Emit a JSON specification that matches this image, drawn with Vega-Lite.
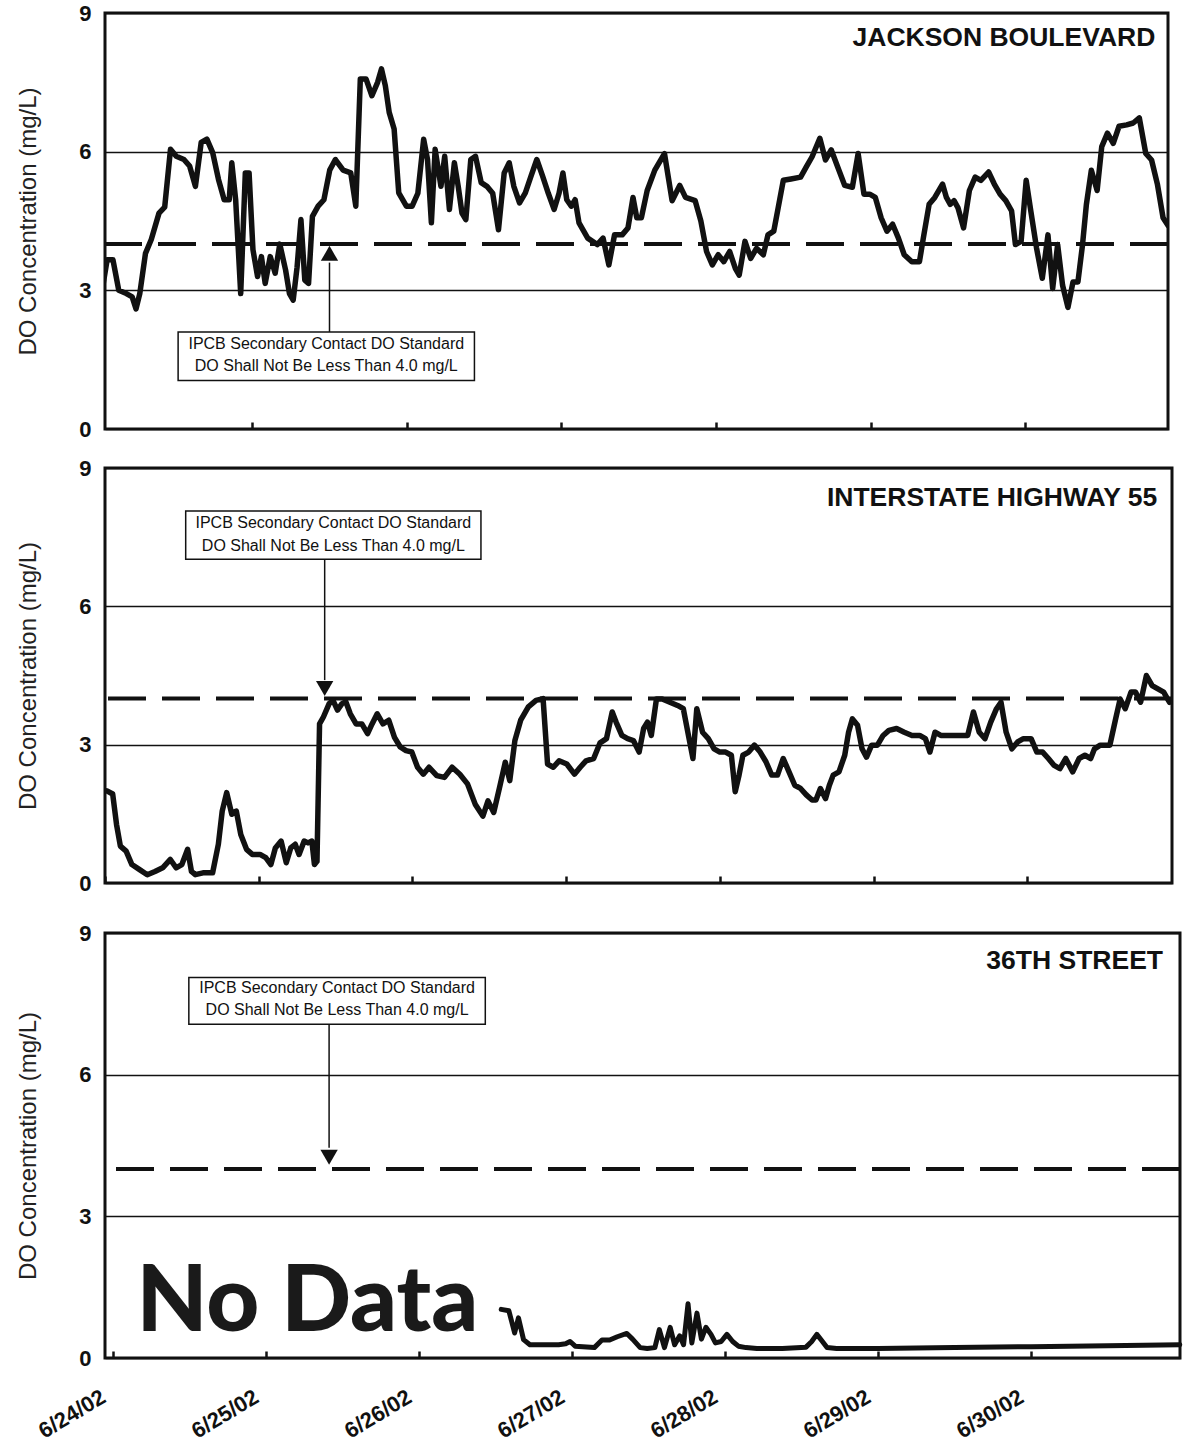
{
  "$schema": "https://vega.github.io/schema/vega-lite/v6.json",
  "background": "white",
  "padding": {"left": 15, "top": 0, "right": 0, "bottom": 0},
  "datasets": {
    "standard": [{"do": 4}],
    "readings": [
      {"site":"J","time":"2002-06-24T00:00","do":5.04},{"site":"J","time":"2002-06-24T00:53","do":3.15},{"site":"J","time":"2002-06-24T01:29","do":3.66},{"site":"J","time":"2002-06-24T02:23","do":3.66},{"site":"J","time":"2002-06-24T03:17","do":3.0},{"site":"J","time":"2002-06-24T04:28","do":2.93},{"site":"J","time":"2002-06-24T05:22","do":2.86},{"site":"J","time":"2002-06-24T05:58","do":2.6},{"site":"J","time":"2002-06-24T06:33","do":2.93},{"site":"J","time":"2002-06-24T07:26","do":3.8},{"site":"J","time":"2002-06-24T08:20","do":4.1},{"site":"J","time":"2002-06-24T09:32","do":4.67},{"site":"J","time":"2002-06-24T10:25","do":4.8},{"site":"J","time":"2002-06-24T11:19","do":6.05},{"site":"J","time":"2002-06-24T12:13","do":5.9},{"site":"J","time":"2002-06-24T13:24","do":5.83},{"site":"J","time":"2002-06-24T14:17","do":5.69},{"site":"J","time":"2002-06-24T15:11","do":5.25},{"site":"J","time":"2002-06-24T16:05","do":6.2},{"site":"J","time":"2002-06-24T16:58","do":6.27},{"site":"J","time":"2002-06-24T17:52","do":5.98},{"site":"J","time":"2002-06-24T18:46","do":5.4},{"site":"J","time":"2002-06-24T19:39","do":4.96},{"site":"J","time":"2002-06-24T20:26","do":4.96},{"site":"J","time":"2002-06-24T20:50","do":5.76},{"site":"J","time":"2002-06-24T21:26","do":4.96},{"site":"J","time":"2002-06-24T22:13","do":2.93},{"site":"J","time":"2002-06-24T22:56","do":5.54},{"site":"J","time":"2002-06-24T23:31","do":5.54},
      {"site":"J","time":"2002-06-25T00:07","do":3.88},{"site":"J","time":"2002-06-25T00:50","do":3.3},{"site":"J","time":"2002-06-25T01:26","do":3.73},{"site":"J","time":"2002-06-25T02:01","do":3.15},{"site":"J","time":"2002-06-25T02:48","do":3.73},{"site":"J","time":"2002-06-25T03:34","do":3.37},{"site":"J","time":"2002-06-25T04:17","do":4.0},{"site":"J","time":"2002-06-25T05:11","do":3.44},{"site":"J","time":"2002-06-25T05:47","do":2.93},{"site":"J","time":"2002-06-25T06:22","do":2.79},{"site":"J","time":"2002-06-25T06:58","do":3.5},{"site":"J","time":"2002-06-25T07:34","do":4.53},{"site":"J","time":"2002-06-25T08:10","do":3.22},{"site":"J","time":"2002-06-25T08:45","do":3.15},{"site":"J","time":"2002-06-25T09:21","do":4.6},{"site":"J","time":"2002-06-25T10:14","do":4.82},{"site":"J","time":"2002-06-25T11:08","do":4.96},{"site":"J","time":"2002-06-25T12:02","do":5.6},{"site":"J","time":"2002-06-25T12:55","do":5.83},{"site":"J","time":"2002-06-25T14:07","do":5.6},{"site":"J","time":"2002-06-25T15:18","do":5.54},{"site":"J","time":"2002-06-25T16:05","do":4.82},{"site":"J","time":"2002-06-25T16:47","do":7.57},{"site":"J","time":"2002-06-25T17:41","do":7.57},{"site":"J","time":"2002-06-25T18:35","do":7.21},{"site":"J","time":"2002-06-25T19:28","do":7.5},{"site":"J","time":"2002-06-25T20:04","do":7.79},{"site":"J","time":"2002-06-25T20:40","do":7.43},{"site":"J","time":"2002-06-25T21:16","do":6.85},{"site":"J","time":"2002-06-25T22:02","do":6.49},{"site":"J","time":"2002-06-25T22:45","do":5.11},{"site":"J","time":"2002-06-25T23:56","do":4.82},
      {"site":"J","time":"2002-06-26T00:50","do":4.82},{"site":"J","time":"2002-06-26T01:43","do":5.1},{"site":"J","time":"2002-06-26T02:37","do":6.27},{"site":"J","time":"2002-06-26T03:13","do":5.83},{"site":"J","time":"2002-06-26T03:49","do":4.46},{"site":"J","time":"2002-06-26T04:24","do":6.05},{"site":"J","time":"2002-06-26T05:18","do":5.25},{"site":"J","time":"2002-06-26T05:53","do":5.9},{"site":"J","time":"2002-06-26T06:37","do":4.75},{"site":"J","time":"2002-06-26T07:23","do":5.76},{"site":"J","time":"2002-06-26T07:59","do":5.25},{"site":"J","time":"2002-06-26T08:34","do":4.67},{"site":"J","time":"2002-06-26T09:10","do":4.53},{"site":"J","time":"2002-06-26T09:56","do":5.83},{"site":"J","time":"2002-06-26T10:40","do":5.9},{"site":"J","time":"2002-06-26T11:33","do":5.33},{"site":"J","time":"2002-06-26T12:26","do":5.25},{"site":"J","time":"2002-06-26T13:20","do":5.1},{"site":"J","time":"2002-06-26T14:14","do":4.31},{"site":"J","time":"2002-06-26T15:07","do":5.54},{"site":"J","time":"2002-06-26T15:54","do":5.76},{"site":"J","time":"2002-06-26T16:37","do":5.25},{"site":"J","time":"2002-06-26T17:30","do":4.89},{"site":"J","time":"2002-06-26T18:24","do":5.11},{"site":"J","time":"2002-06-26T19:17","do":5.47},{"site":"J","time":"2002-06-26T20:11","do":5.83},{"site":"J","time":"2002-06-26T21:05","do":5.47},{"site":"J","time":"2002-06-26T21:58","do":5.1},{"site":"J","time":"2002-06-26T22:52","do":4.75},{"site":"J","time":"2002-06-26T23:38","do":5.1},
      {"site":"J","time":"2002-06-27T00:14","do":5.54},{"site":"J","time":"2002-06-27T00:50","do":4.96},{"site":"J","time":"2002-06-27T01:32","do":4.82},{"site":"J","time":"2002-06-27T02:08","do":4.96},{"site":"J","time":"2002-06-27T02:44","do":4.46},{"site":"J","time":"2002-06-27T04:05","do":4.13},{"site":"J","time":"2002-06-27T05:34","do":3.99},{"site":"J","time":"2002-06-27T06:28","do":4.13},{"site":"J","time":"2002-06-27T07:22","do":3.55},{"site":"J","time":"2002-06-27T08:15","do":4.2},{"site":"J","time":"2002-06-27T09:26","do":4.2},{"site":"J","time":"2002-06-27T10:20","do":4.35},{"site":"J","time":"2002-06-27T11:07","do":5.01},{"site":"J","time":"2002-06-27T11:42","do":4.57},{"site":"J","time":"2002-06-27T12:25","do":4.57},{"site":"J","time":"2002-06-27T13:19","do":5.16},{"site":"J","time":"2002-06-27T14:30","do":5.6},{"site":"J","time":"2002-06-27T16:00","do":5.96},{"site":"J","time":"2002-06-27T17:11","do":4.94},{"site":"J","time":"2002-06-27T18:22","do":5.27},{"site":"J","time":"2002-06-27T19:16","do":5.01},{"site":"J","time":"2002-06-27T20:46","do":4.94},{"site":"J","time":"2002-06-27T21:39","do":4.5},{"site":"J","time":"2002-06-27T22:32","do":3.84},{"site":"J","time":"2002-06-27T23:26","do":3.55},
      {"site":"J","time":"2002-06-28T00:20","do":3.77},{"site":"J","time":"2002-06-28T01:13","do":3.62},{"site":"J","time":"2002-06-28T02:07","do":3.84},{"site":"J","time":"2002-06-28T03:01","do":3.47},{"site":"J","time":"2002-06-28T03:36","do":3.33},{"site":"J","time":"2002-06-28T04:30","do":4.06},{"site":"J","time":"2002-06-28T05:23","do":3.69},{"site":"J","time":"2002-06-28T06:17","do":3.91},{"site":"J","time":"2002-06-28T07:21","do":3.77},{"site":"J","time":"2002-06-28T08:04","do":4.2},{"site":"J","time":"2002-06-28T08:58","do":4.28},{"site":"J","time":"2002-06-28T09:34","do":4.72},{"site":"J","time":"2002-06-28T10:27","do":5.38},{"site":"J","time":"2002-06-28T11:38","do":5.41},{"site":"J","time":"2002-06-28T13:08","do":5.45},{"site":"J","time":"2002-06-28T14:01","do":5.67},{"site":"J","time":"2002-06-28T14:55","do":5.89},{"site":"J","time":"2002-06-28T16:07","do":6.29},{"site":"J","time":"2002-06-28T17:00","do":5.82},{"site":"J","time":"2002-06-28T17:53","do":6.04},{"site":"J","time":"2002-06-28T19:05","do":5.6},{"site":"J","time":"2002-06-28T19:59","do":5.27},{"site":"J","time":"2002-06-28T21:10","do":5.23},{"site":"J","time":"2002-06-28T22:04","do":5.96},{"site":"J","time":"2002-06-28T22:58","do":5.08},{"site":"J","time":"2002-06-28T23:51","do":5.08},
      {"site":"J","time":"2002-06-29T00:44","do":5.01},{"site":"J","time":"2002-06-29T01:38","do":4.57},{"site":"J","time":"2002-06-29T02:32","do":4.28},{"site":"J","time":"2002-06-29T03:25","do":4.43},{"site":"J","time":"2002-06-29T04:19","do":4.13},{"site":"J","time":"2002-06-29T05:13","do":3.77},{"site":"J","time":"2002-06-29T06:24","do":3.62},{"site":"J","time":"2002-06-29T07:35","do":3.62},{"site":"J","time":"2002-06-29T08:11","do":4.13},{"site":"J","time":"2002-06-29T09:05","do":4.86},{"site":"J","time":"2002-06-29T09:58","do":5.01},{"site":"J","time":"2002-06-29T11:10","do":5.3},{"site":"J","time":"2002-06-29T11:46","do":5.01},{"site":"J","time":"2002-06-29T12:22","do":4.86},{"site":"J","time":"2002-06-29T12:57","do":4.94},{"site":"J","time":"2002-06-29T13:33","do":4.79},{"site":"J","time":"2002-06-29T14:26","do":4.35},{"site":"J","time":"2002-06-29T15:20","do":5.16},{"site":"J","time":"2002-06-29T16:14","do":5.45},{"site":"J","time":"2002-06-29T17:07","do":5.38},{"site":"J","time":"2002-06-29T18:19","do":5.56},{"site":"J","time":"2002-06-29T19:12","do":5.3},{"site":"J","time":"2002-06-29T20:06","do":5.08},{"site":"J","time":"2002-06-29T20:59","do":4.94},{"site":"J","time":"2002-06-29T21:53","do":4.72},{"site":"J","time":"2002-06-29T22:29","do":3.99},{"site":"J","time":"2002-06-29T23:22","do":4.06},
      {"site":"J","time":"2002-06-30T00:09","do":5.38},{"site":"J","time":"2002-06-30T00:52","do":4.72},{"site":"J","time":"2002-06-30T01:46","do":3.91},{"site":"J","time":"2002-06-30T02:39","do":3.26},{"site":"J","time":"2002-06-30T03:32","do":4.2},{"site":"J","time":"2002-06-30T04:16","do":3.04},{"site":"J","time":"2002-06-30T05:02","do":3.99},{"site":"J","time":"2002-06-30T05:48","do":3.11},{"site":"J","time":"2002-06-30T06:38","do":2.63},{"site":"J","time":"2002-06-30T07:25","do":3.18},{"site":"J","time":"2002-06-30T08:11","do":3.18},{"site":"J","time":"2002-06-30T08:54","do":3.99},{"site":"J","time":"2002-06-30T09:30","do":4.86},{"site":"J","time":"2002-06-30T10:16","do":5.6},{"site":"J","time":"2002-06-30T11:10","do":5.16},{"site":"J","time":"2002-06-30T11:53","do":6.11},{"site":"J","time":"2002-06-30T12:46","do":6.4},{"site":"J","time":"2002-06-30T13:40","do":6.18},{"site":"J","time":"2002-06-30T14:34","do":6.55},{"site":"J","time":"2002-06-30T15:45","do":6.58},{"site":"J","time":"2002-06-30T16:46","do":6.62},{"site":"J","time":"2002-06-30T17:43","do":6.73},{"site":"J","time":"2002-06-30T18:43","do":5.96},{"site":"J","time":"2002-06-30T19:37","do":5.82},{"site":"J","time":"2002-06-30T20:31","do":5.3},{"site":"J","time":"2002-06-30T21:24","do":4.57},{"site":"J","time":"2002-06-30T22:12","do":4.4},

      {"site":"I","time":"2002-06-24T00:18","do":2.0},{"site":"I","time":"2002-06-24T01:12","do":1.93},{"site":"I","time":"2002-06-24T01:48","do":1.27},{"site":"I","time":"2002-06-24T02:24","do":0.8},{"site":"I","time":"2002-06-24T03:18","do":0.69},{"site":"I","time":"2002-06-24T04:12","do":0.4},{"site":"I","time":"2002-06-24T05:24","do":0.29},{"site":"I","time":"2002-06-24T06:36","do":0.18},{"site":"I","time":"2002-06-24T07:48","do":0.25},{"site":"I","time":"2002-06-24T09:00","do":0.33},{"site":"I","time":"2002-06-24T10:12","do":0.51},{"site":"I","time":"2002-06-24T11:06","do":0.33},{"site":"I","time":"2002-06-24T12:00","do":0.4},{"site":"I","time":"2002-06-24T12:54","do":0.73},{"site":"I","time":"2002-06-24T13:30","do":0.25},{"site":"I","time":"2002-06-24T14:06","do":0.18},{"site":"I","time":"2002-06-24T15:18","do":0.22},{"site":"I","time":"2002-06-24T16:48","do":0.22},{"site":"I","time":"2002-06-24T17:42","do":0.84},{"site":"I","time":"2002-06-24T18:18","do":1.56},{"site":"I","time":"2002-06-24T19:00","do":1.96},{"site":"I","time":"2002-06-24T19:48","do":1.49},{"site":"I","time":"2002-06-24T20:30","do":1.56},{"site":"I","time":"2002-06-24T21:12","do":1.05},{"site":"I","time":"2002-06-24T22:06","do":0.73},{"site":"I","time":"2002-06-24T23:00","do":0.62},
      {"site":"I","time":"2002-06-25T00:12","do":0.62},{"site":"I","time":"2002-06-25T01:06","do":0.55},{"site":"I","time":"2002-06-25T01:54","do":0.4},{"site":"I","time":"2002-06-25T02:36","do":0.76},{"site":"I","time":"2002-06-25T03:30","do":0.91},{"site":"I","time":"2002-06-25T04:18","do":0.44},{"site":"I","time":"2002-06-25T05:00","do":0.76},{"site":"I","time":"2002-06-25T05:42","do":0.84},{"site":"I","time":"2002-06-25T06:18","do":0.62},{"site":"I","time":"2002-06-25T07:06","do":0.91},{"site":"I","time":"2002-06-25T07:42","do":0.87},{"site":"I","time":"2002-06-25T08:18","do":0.91},{"site":"I","time":"2002-06-25T08:42","do":0.4},{"site":"I","time":"2002-06-25T09:06","do":0.47},{"site":"I","time":"2002-06-25T09:30","do":3.45},{"site":"I","time":"2002-06-25T10:06","do":3.6},{"site":"I","time":"2002-06-25T11:00","do":3.89},{"site":"I","time":"2002-06-25T11:36","do":3.96},{"site":"I","time":"2002-06-25T12:18","do":3.75},{"site":"I","time":"2002-06-25T13:00","do":3.89},{"site":"I","time":"2002-06-25T13:36","do":3.93},{"site":"I","time":"2002-06-25T14:18","do":3.67},{"site":"I","time":"2002-06-25T15:12","do":3.45},{"site":"I","time":"2002-06-25T16:06","do":3.45},{"site":"I","time":"2002-06-25T17:00","do":3.24},{"site":"I","time":"2002-06-25T17:42","do":3.45},{"site":"I","time":"2002-06-25T18:30","do":3.67},{"site":"I","time":"2002-06-25T19:24","do":3.45},{"site":"I","time":"2002-06-25T20:18","do":3.53},{"site":"I","time":"2002-06-25T21:12","do":3.16},{"site":"I","time":"2002-06-25T22:06","do":2.95},{"site":"I","time":"2002-06-25T23:00","do":2.87},{"site":"I","time":"2002-06-25T23:54","do":2.84},
      {"site":"I","time":"2002-06-26T00:48","do":2.51},{"site":"I","time":"2002-06-26T01:42","do":2.36},{"site":"I","time":"2002-06-26T02:36","do":2.51},{"site":"I","time":"2002-06-26T03:48","do":2.33},{"site":"I","time":"2002-06-26T05:00","do":2.29},{"site":"I","time":"2002-06-26T06:12","do":2.51},{"site":"I","time":"2002-06-26T07:24","do":2.36},{"site":"I","time":"2002-06-26T08:36","do":2.15},{"site":"I","time":"2002-06-26T09:48","do":1.71},{"site":"I","time":"2002-06-26T11:00","do":1.45},{"site":"I","time":"2002-06-26T11:48","do":1.78},{"site":"I","time":"2002-06-26T12:42","do":1.53},{"site":"I","time":"2002-06-26T13:36","do":2.07},{"site":"I","time":"2002-06-26T14:30","do":2.62},{"site":"I","time":"2002-06-26T15:12","do":2.22},{"site":"I","time":"2002-06-26T16:00","do":3.09},{"site":"I","time":"2002-06-26T16:54","do":3.53},{"site":"I","time":"2002-06-26T18:06","do":3.82},{"site":"I","time":"2002-06-26T19:18","do":3.96},{"site":"I","time":"2002-06-26T20:24","do":4.0},{"site":"I","time":"2002-06-26T21:06","do":2.58},{"site":"I","time":"2002-06-26T22:00","do":2.51},{"site":"I","time":"2002-06-26T22:54","do":2.65},
      {"site":"I","time":"2002-06-27T00:06","do":2.58},{"site":"I","time":"2002-06-27T01:18","do":2.36},{"site":"I","time":"2002-06-27T02:12","do":2.51},{"site":"I","time":"2002-06-27T03:06","do":2.65},{"site":"I","time":"2002-06-27T04:18","do":2.7},{"site":"I","time":"2002-06-27T05:18","do":3.04},{"site":"I","time":"2002-06-27T06:18","do":3.13},{"site":"I","time":"2002-06-27T07:12","do":3.71},{"site":"I","time":"2002-06-27T07:48","do":3.49},{"site":"I","time":"2002-06-27T08:42","do":3.2},{"site":"I","time":"2002-06-27T09:36","do":3.13},{"site":"I","time":"2002-06-27T10:30","do":3.09},{"site":"I","time":"2002-06-27T11:24","do":2.84},{"site":"I","time":"2002-06-27T12:06","do":3.35},{"site":"I","time":"2002-06-27T12:42","do":3.49},{"site":"I","time":"2002-06-27T13:18","do":3.2},{"site":"I","time":"2002-06-27T14:06","do":3.99},{"site":"I","time":"2002-06-27T15:00","do":3.99},{"site":"I","time":"2002-06-27T16:12","do":3.92},{"site":"I","time":"2002-06-27T17:24","do":3.85},{"site":"I","time":"2002-06-27T18:18","do":3.78},{"site":"I","time":"2002-06-27T19:12","do":3.13},{"site":"I","time":"2002-06-27T19:48","do":2.7},{"site":"I","time":"2002-06-27T20:24","do":3.78},{"site":"I","time":"2002-06-27T21:18","do":3.27},{"site":"I","time":"2002-06-27T22:12","do":3.13},{"site":"I","time":"2002-06-27T23:06","do":2.91},
      {"site":"I","time":"2002-06-28T00:00","do":2.84},{"site":"I","time":"2002-06-28T00:54","do":2.84},{"site":"I","time":"2002-06-28T01:48","do":2.77},{"site":"I","time":"2002-06-28T02:24","do":1.98},{"site":"I","time":"2002-06-28T03:00","do":2.34},{"site":"I","time":"2002-06-28T03:36","do":2.77},{"site":"I","time":"2002-06-28T04:30","do":2.84},{"site":"I","time":"2002-06-28T05:24","do":2.99},{"site":"I","time":"2002-06-28T06:18","do":2.84},{"site":"I","time":"2002-06-28T07:12","do":2.63},{"site":"I","time":"2002-06-28T08:06","do":2.34},{"site":"I","time":"2002-06-28T09:00","do":2.34},{"site":"I","time":"2002-06-28T09:54","do":2.7},{"site":"I","time":"2002-06-28T10:48","do":2.41},{"site":"I","time":"2002-06-28T11:42","do":2.12},{"site":"I","time":"2002-06-28T12:36","do":2.05},{"site":"I","time":"2002-06-28T13:30","do":1.91},{"site":"I","time":"2002-06-28T14:24","do":1.8},{"site":"I","time":"2002-06-28T15:00","do":1.8},{"site":"I","time":"2002-06-28T15:42","do":2.05},{"site":"I","time":"2002-06-28T16:30","do":1.83},{"site":"I","time":"2002-06-28T17:06","do":2.12},{"site":"I","time":"2002-06-28T17:42","do":2.34},{"site":"I","time":"2002-06-28T18:36","do":2.41},{"site":"I","time":"2002-06-28T19:30","do":2.77},{"site":"I","time":"2002-06-28T20:06","do":3.27},{"site":"I","time":"2002-06-28T20:42","do":3.56},{"site":"I","time":"2002-06-28T21:30","do":3.42},{"site":"I","time":"2002-06-28T22:12","do":2.91},{"site":"I","time":"2002-06-28T22:54","do":2.73},{"site":"I","time":"2002-06-28T23:42","do":2.99},
      {"site":"I","time":"2002-06-29T00:36","do":2.99},{"site":"I","time":"2002-06-29T01:30","do":3.2},{"site":"I","time":"2002-06-29T02:24","do":3.31},{"site":"I","time":"2002-06-29T03:36","do":3.35},{"site":"I","time":"2002-06-29T04:48","do":3.27},{"site":"I","time":"2002-06-29T06:00","do":3.2},{"site":"I","time":"2002-06-29T07:12","do":3.2},{"site":"I","time":"2002-06-29T08:06","do":3.13},{"site":"I","time":"2002-06-29T08:48","do":2.84},{"site":"I","time":"2002-06-29T09:36","do":3.27},{"site":"I","time":"2002-06-29T10:30","do":3.2},{"site":"I","time":"2002-06-29T11:24","do":3.2},{"site":"I","time":"2002-06-29T12:36","do":3.2},{"site":"I","time":"2002-06-29T13:48","do":3.2},{"site":"I","time":"2002-06-29T14:42","do":3.2},{"site":"I","time":"2002-06-29T15:36","do":3.71},{"site":"I","time":"2002-06-29T16:30","do":3.27},{"site":"I","time":"2002-06-29T17:24","do":3.13},{"site":"I","time":"2002-06-29T18:18","do":3.49},{"site":"I","time":"2002-06-29T19:12","do":3.78},{"site":"I","time":"2002-06-29T19:54","do":3.92},{"site":"I","time":"2002-06-29T20:42","do":3.27},{"site":"I","time":"2002-06-29T21:36","do":2.91},{"site":"I","time":"2002-06-29T22:30","do":3.06},{"site":"I","time":"2002-06-29T23:24","do":3.13},
      {"site":"I","time":"2002-06-30T00:36","do":3.13},{"site":"I","time":"2002-06-30T01:30","do":2.84},{"site":"I","time":"2002-06-30T02:24","do":2.84},{"site":"I","time":"2002-06-30T03:18","do":2.7},{"site":"I","time":"2002-06-30T04:12","do":2.55},{"site":"I","time":"2002-06-30T05:06","do":2.48},{"site":"I","time":"2002-06-30T06:00","do":2.7},{"site":"I","time":"2002-06-30T07:06","do":2.41},{"site":"I","time":"2002-06-30T08:06","do":2.7},{"site":"I","time":"2002-06-30T09:00","do":2.77},{"site":"I","time":"2002-06-30T09:54","do":2.7},{"site":"I","time":"2002-06-30T10:30","do":2.91},{"site":"I","time":"2002-06-30T11:24","do":2.99},{"site":"I","time":"2002-06-30T12:54","do":2.99},{"site":"I","time":"2002-06-30T13:48","do":3.56},{"site":"I","time":"2002-06-30T14:30","do":3.99},{"site":"I","time":"2002-06-30T15:18","do":3.78},{"site":"I","time":"2002-06-30T16:12","do":4.14},{"site":"I","time":"2002-06-30T16:54","do":4.14},{"site":"I","time":"2002-06-30T17:42","do":3.92},{"site":"I","time":"2002-06-30T18:36","do":4.5},{"site":"I","time":"2002-06-30T19:30","do":4.28},{"site":"I","time":"2002-06-30T20:24","do":4.21},{"site":"I","time":"2002-06-30T21:18","do":4.14},{"site":"I","time":"2002-06-30T22:12","do":3.92},

      {"site":"S","time":"2002-06-26T12:54","do":1.03},{"site":"S","time":"2002-06-26T14:06","do":1.0},{"site":"S","time":"2002-06-26T15:00","do":0.53},{"site":"S","time":"2002-06-26T15:36","do":0.85},{"site":"S","time":"2002-06-26T16:24","do":0.39},{"site":"S","time":"2002-06-26T17:24","do":0.28},{"site":"S","time":"2002-06-26T19:30","do":0.28},{"site":"S","time":"2002-06-26T21:54","do":0.28},{"site":"S","time":"2002-06-26T23:00","do":0.3},{"site":"S","time":"2002-06-26T23:42","do":0.35},
      {"site":"S","time":"2002-06-27T00:30","do":0.25},{"site":"S","time":"2002-06-27T03:30","do":0.22},{"site":"S","time":"2002-06-27T04:42","do":0.38},{"site":"S","time":"2002-06-27T05:54","do":0.38},{"site":"S","time":"2002-06-27T07:06","do":0.45},{"site":"S","time":"2002-06-27T08:36","do":0.52},{"site":"S","time":"2002-06-27T09:30","do":0.4},{"site":"S","time":"2002-06-27T10:42","do":0.22},{"site":"S","time":"2002-06-27T11:48","do":0.2},{"site":"S","time":"2002-06-27T13:00","do":0.22},{"site":"S","time":"2002-06-27T13:42","do":0.6},{"site":"S","time":"2002-06-27T14:30","do":0.22},{"site":"S","time":"2002-06-27T15:24","do":0.65},{"site":"S","time":"2002-06-27T16:06","do":0.28},{"site":"S","time":"2002-06-27T16:54","do":0.47},{"site":"S","time":"2002-06-27T17:30","do":0.28},{"site":"S","time":"2002-06-27T18:12","do":1.15},{"site":"S","time":"2002-06-27T18:48","do":0.32},{"site":"S","time":"2002-06-27T19:36","do":0.95},{"site":"S","time":"2002-06-27T20:18","do":0.4},{"site":"S","time":"2002-06-27T21:00","do":0.65},{"site":"S","time":"2002-06-27T21:48","do":0.5},{"site":"S","time":"2002-06-27T22:30","do":0.32},{"site":"S","time":"2002-06-27T23:24","do":0.35},
      {"site":"S","time":"2002-06-28T00:18","do":0.5},{"site":"S","time":"2002-06-28T01:12","do":0.35},{"site":"S","time":"2002-06-28T02:06","do":0.25},{"site":"S","time":"2002-06-28T03:18","do":0.22},{"site":"S","time":"2002-06-28T05:00","do":0.2},{"site":"S","time":"2002-06-28T09:00","do":0.2},{"site":"S","time":"2002-06-28T12:42","do":0.23},{"site":"S","time":"2002-06-28T13:36","do":0.35},{"site":"S","time":"2002-06-28T14:24","do":0.5},{"site":"S","time":"2002-06-28T15:06","do":0.38},{"site":"S","time":"2002-06-28T16:00","do":0.22},{"site":"S","time":"2002-06-28T17:30","do":0.2},
      {"site":"S","time":"2002-06-29T00:00","do":0.2},{"site":"S","time":"2002-06-29T12:00","do":0.22},{"site":"S","time":"2002-06-30T00:00","do":0.24},{"site":"S","time":"2002-06-30T12:00","do":0.26},{"site":"S","time":"2002-06-30T23:20","do":0.28}
    ]
  },
  "config": {
    "font": "Liberation Sans",
    "view": {"stroke": "#111", "strokeWidth": 3},
    "axis": {"domain": false, "labelColor": "#111", "titleColor": "#222", "labelFont": "Liberation Sans", "titleFont": "Liberation Sans"},
    "axisY": {"grid": true, "gridColor": "#111", "gridWidth": 1.6, "gridOpacity": 1, "ticks": false, "labelPadding": 14, "labelFontSize": 22, "labelFontWeight": "bold", "titleFontSize": 24, "titleFontWeight": "normal", "titlePadding": 38},
    "axisX": {"grid": false, "ticks": true, "tickSize": -7, "tickWidth": 2.5, "tickColor": "#111", "labelFontSize": 22, "labelFontWeight": "bold", "labelAngle": -31, "labelAlign": "right", "labelBaseline": "top", "labelPadding": 35, "labelOffset": -15, "labelFlush": false, "labelOverlap": false}
  },
  "concat": [
    {
      "concat": [
        {
          "width": 1063, "height": 416,
          "layer": [
            {"data": {"name": "standard"}, "mark": {"type": "rule", "strokeDash": [38, 16], "strokeWidth": 4, "color": "#111"}, "encoding": {"y": {"field": "do", "type": "quantitative"}}},
            {"data": {"name": "readings"}, "transform": [{"filter": "datum.site === 'J'"}],
             "mark": {"type": "line", "strokeWidth": 5.5, "color": "#111", "strokeJoin": "round", "strokeCap": "round", "clip": true},
             "encoding": {
               "x": {"field": "time", "type": "temporal", "scale": {"domain": [{"year": 2002, "month": 6, "date": 24, "hours": 1, "minutes": 9}, {"year": 2002, "month": 6, "date": 30, "hours": 22, "minutes": 10}]}, "axis": {"title": null, "labels": false, "format": "%-m/%-d/%y", "values": [{"year":2002,"month":6,"date":25},{"year":2002,"month":6,"date":26},{"year":2002,"month":6,"date":27},{"year":2002,"month":6,"date":28},{"year":2002,"month":6,"date":29},{"year":2002,"month":6,"date":30}]}},
               "y": {"field": "do", "type": "quantitative", "scale": {"domain": [0, 9], "nice": false}, "axis": {"title": "DO Concentration (mg/L)", "values": [0, 3, 6, 9]}}
             }},
            {"data": {"values": [{}]}, "mark": {"type": "rect", "fill": "white", "stroke": "#111", "strokeWidth": 1.5},
             "encoding": {"x": {"datum": {"year": 2002, "month": 6, "date": 24, "hours": 12, "minutes": 30}, "type": "temporal"}, "x2": {"datum": {"year": 2002, "month": 6, "date": 26, "hours": 10, "minutes": 30}}, "y": {"datum": 2.1}, "y2": {"datum": 1.05}}},
            {"data": {"values": [{}]}, "mark": {"type": "text", "text": ["IPCB Secondary Contact DO Standard", "DO Shall Not Be Less Than 4.0 mg/L"], "lineHeight": 22, "fontSize": 16, "align": "center", "baseline": "middle", "color": "#111"},
             "encoding": {"x": {"datum": {"year": 2002, "month": 6, "date": 25, "hours": 11, "minutes": 30}, "type": "temporal"}, "y": {"datum": 1.84}}},
            {"data": {"values": [{}]}, "mark": {"type": "rule", "strokeWidth": 1.5, "color": "#111"},
             "encoding": {"x": {"datum": {"year": 2002, "month": 6, "date": 25, "hours": 12}, "type": "temporal"}, "y": {"datum": 2.1}, "y2": {"datum": 3.6}}},
            {"data": {"values": [{}]}, "mark": {"type": "point", "shape": "triangle-up", "size": 300, "filled": true, "color": "#111", "opacity": 1},
             "encoding": {"x": {"datum": {"year": 2002, "month": 6, "date": 25, "hours": 12}, "type": "temporal"}, "y": {"datum": 3.8}}},
            {"data": {"values": [{}]}, "mark": {"type": "text", "text": "JACKSON BOULEVARD", "fontSize": 26.5, "fontWeight": "bold", "align": "right", "baseline": "middle", "color": "#111"},
             "encoding": {"x": {"datum": {"year": 2002, "month": 6, "date": 30, "hours": 20, "minutes": 12}, "type": "temporal"}, "y": {"datum": 8.45}}}
          ]
        },
        {
          "width": 1067, "height": 415,
          "layer": [
            {"data": {"name": "standard"}, "mark": {"type": "rule", "strokeDash": [38, 16], "strokeWidth": 4, "color": "#111"}, "encoding": {"y": {"field": "do", "type": "quantitative"}}},
            {"data": {"name": "readings"}, "transform": [{"filter": "datum.site === 'I'"}],
             "mark": {"type": "line", "strokeWidth": 5.5, "color": "#111", "strokeJoin": "round", "strokeCap": "round"},
             "encoding": {
               "x": {"field": "time", "type": "temporal", "scale": {"domain": [{"year": 2002, "month": 6, "date": 24}, {"year": 2002, "month": 6, "date": 30, "hours": 22, "minutes": 36}]}, "axis": {"title": null, "labels": false, "format": "%-m/%-d/%y", "values": [{"year":2002,"month":6,"date":24},{"year":2002,"month":6,"date":25},{"year":2002,"month":6,"date":26},{"year":2002,"month":6,"date":27},{"year":2002,"month":6,"date":28},{"year":2002,"month":6,"date":29},{"year":2002,"month":6,"date":30}]}},
               "y": {"field": "do", "type": "quantitative", "scale": {"domain": [0, 9], "nice": false}, "axis": {"title": "DO Concentration (mg/L)", "values": [0, 3, 6, 9]}}
             }},
            {"data": {"values": [{}]}, "mark": {"type": "rect", "fill": "white", "stroke": "#111", "strokeWidth": 1.5},
             "encoding": {"x": {"datum": {"year": 2002, "month": 6, "date": 24, "hours": 12, "minutes": 36}, "type": "temporal"}, "x2": {"datum": {"year": 2002, "month": 6, "date": 26, "hours": 10, "minutes": 42}}, "y": {"datum": 8.07}, "y2": {"datum": 7.02}}},
            {"data": {"values": [{}]}, "mark": {"type": "text", "text": ["IPCB Secondary Contact DO Standard", "DO Shall Not Be Less Than 4.0 mg/L"], "lineHeight": 23, "fontSize": 16, "align": "center", "baseline": "middle", "color": "#111"},
             "encoding": {"x": {"datum": {"year": 2002, "month": 6, "date": 25, "hours": 11, "minutes": 39}, "type": "temporal"}, "y": {"datum": 7.81}}},
            {"data": {"values": [{}]}, "mark": {"type": "rule", "strokeWidth": 1.5, "color": "#111"},
             "encoding": {"x": {"datum": {"year": 2002, "month": 6, "date": 25, "hours": 10, "minutes": 18}, "type": "temporal"}, "y": {"datum": 7.02}, "y2": {"datum": 4.4}}},
            {"data": {"values": [{}]}, "mark": {"type": "point", "shape": "triangle-down", "size": 300, "filled": true, "color": "#111", "opacity": 1},
             "encoding": {"x": {"datum": {"year": 2002, "month": 6, "date": 25, "hours": 10, "minutes": 18}, "type": "temporal"}, "y": {"datum": 4.22}}},
            {"data": {"values": [{}]}, "mark": {"type": "text", "text": "INTERSTATE HIGHWAY 55", "fontSize": 26.5, "fontWeight": "bold", "align": "right", "baseline": "middle", "color": "#111"},
             "encoding": {"x": {"datum": {"year": 2002, "month": 6, "date": 30, "hours": 20, "minutes": 18}, "type": "temporal"}, "y": {"datum": 8.35}}}
          ]
        }
      ],
      "columns": 1, "spacing": 13,
      "resolve": {"scale": {"x": "independent", "y": "independent"}}
    },
    {
      "width": 1075, "height": 425,
      "layer": [
        {"data": {"name": "standard"}, "mark": {"type": "rule", "strokeDash": [38, 16], "strokeWidth": 4, "color": "#111"}, "encoding": {"y": {"field": "do", "type": "quantitative"}}},
        {"data": {"name": "readings"}, "transform": [{"filter": "datum.site === 'S'"}],
         "mark": {"type": "line", "strokeWidth": 5, "color": "#111", "strokeJoin": "round", "strokeCap": "round"},
         "encoding": {
           "x": {"field": "time", "type": "temporal", "scale": {"domain": [{"year": 2002, "month": 6, "date": 23, "hours": 22, "minutes": 45}, {"year": 2002, "month": 6, "date": 30, "hours": 23, "minutes": 22}]}, "axis": {"title": null, "labels": true, "format": "%-m/%-d/%y", "values": [{"year":2002,"month":6,"date":24},{"year":2002,"month":6,"date":25},{"year":2002,"month":6,"date":26},{"year":2002,"month":6,"date":27},{"year":2002,"month":6,"date":28},{"year":2002,"month":6,"date":29},{"year":2002,"month":6,"date":30}]}},
           "y": {"field": "do", "type": "quantitative", "scale": {"domain": [0, 9], "nice": false}, "axis": {"title": "DO Concentration (mg/L)", "values": [0, 3, 6, 9]}}
         }},
        {"data": {"values": [{}]}, "mark": {"type": "rect", "fill": "white", "stroke": "#111", "strokeWidth": 1.5},
         "encoding": {"x": {"datum": {"year": 2002, "month": 6, "date": 24, "hours": 11, "minutes": 54}, "type": "temporal"}, "x2": {"datum": {"year": 2002, "month": 6, "date": 26, "hours": 10, "minutes": 24}}, "y": {"datum": 8.06}, "y2": {"datum": 7.07}}},
        {"data": {"values": [{}]}, "mark": {"type": "text", "text": ["IPCB Secondary Contact DO Standard", "DO Shall Not Be Less Than 4.0 mg/L"], "lineHeight": 22, "fontSize": 16, "align": "center", "baseline": "middle", "color": "#111"},
         "encoding": {"x": {"datum": {"year": 2002, "month": 6, "date": 25, "hours": 11, "minutes": 9}, "type": "temporal"}, "y": {"datum": 7.84}}},
        {"data": {"values": [{}]}, "mark": {"type": "rule", "strokeWidth": 1.5, "color": "#111"},
         "encoding": {"x": {"datum": {"year": 2002, "month": 6, "date": 25, "hours": 9, "minutes": 54}, "type": "temporal"}, "y": {"datum": 7.07}, "y2": {"datum": 4.45}}},
        {"data": {"values": [{}]}, "mark": {"type": "point", "shape": "triangle-down", "size": 300, "filled": true, "color": "#111", "opacity": 1},
         "encoding": {"x": {"datum": {"year": 2002, "month": 6, "date": 25, "hours": 9, "minutes": 54}, "type": "temporal"}, "y": {"datum": 4.25}}},
        {"data": {"values": [{}]}, "mark": {"type": "text", "text": "36TH STREET", "fontSize": 26.5, "fontWeight": "bold", "align": "right", "baseline": "middle", "color": "#111"},
         "encoding": {"x": {"datum": {"year": 2002, "month": 6, "date": 30, "hours": 20, "minutes": 42}, "type": "temporal"}, "y": {"datum": 8.41}}},
        {"data": {"values": [{}]}, "mark": {"type": "text", "text": "No Data", "font": "Lato", "fontSize": 92, "fontWeight": 900, "align": "center", "baseline": "alphabetic", "color": "#1a1a1a"},
         "encoding": {"x": {"datum": {"year": 2002, "month": 6, "date": 25, "hours": 6, "minutes": 30}, "type": "temporal"}, "y": {"datum": 0.57}}}
      ]
    }
  ],
  "columns": 1, "spacing": 24,
  "resolve": {"scale": {"x": "independent", "y": "independent"}}
}
